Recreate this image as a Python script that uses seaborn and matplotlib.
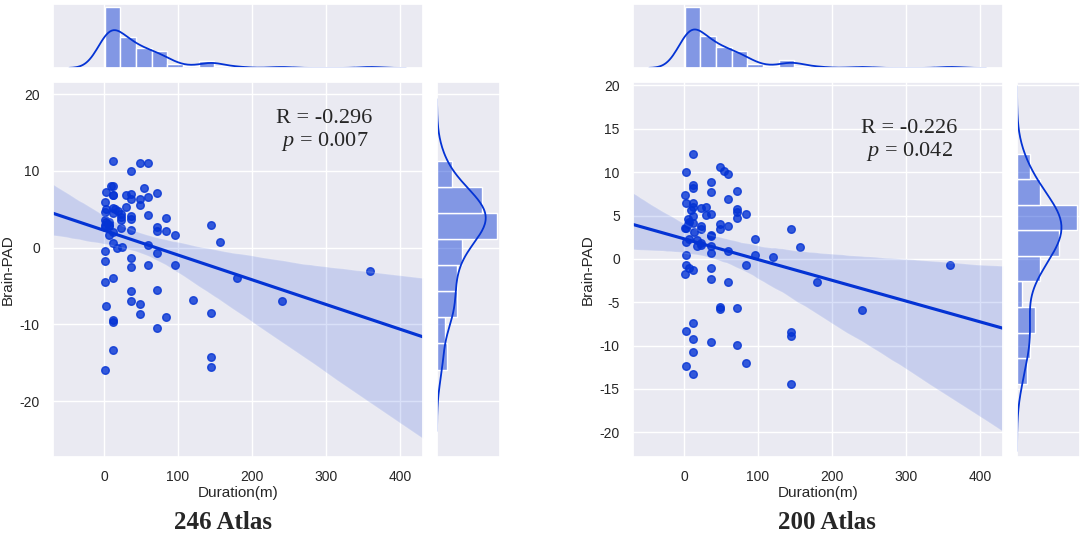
import numpy as np
import matplotlib
matplotlib.use('Agg')
import matplotlib.pyplot as plt
import seaborn as sns

# durata (luni) si Brain-PAD, atlas 246
dur_246 = [12, 48, 60, 36, 2, 9, 12, 12, 12, 1, 54, 72, 30, 36, 36, 48, 48, 59, 30, 1,
           12, 15, 19, 23, 23, 23, 23, 36, 36, 60, 84, 1, 3, 6, 7, 1, 36, 72, 72, 84,
           96, 144, 156, 6, 12, 18, 24, 60, 1, 72, 1, 36, 36, 60, 96, 180, 1, 12, 36, 72,
           36, 48, 120, 2, 48, 84, 144, 12, 12, 72, 12, 144, 1, 144, 240, 360,
           1, 12, 6, 12, 2]
pad_246 = [11.35, 11.0, 11.1, 10.0, 7.2, 8.0, 8.1, 6.8, 6.9, 6.0, 7.8, 7.1, 6.8, 7.0, 6.35, 6.3, 5.5, 6.6, 5.35, 4.6,
           5.2, 5.0, 4.8, 4.4, 4.0, 3.6, 2.6, 4.1, 3.8, 4.2, 3.9, 3.6, 3.3, 3.0, 2.8, 2.7, 2.3, 2.7, 2.2, 2.2,
           1.6, 3.0, 0.8, 1.6, 0.65, 0.0, 0.1, 0.4, -0.5, -0.7, -1.8, -1.35, -2.5, -2.3, -2.2, -4.0, -4.5, -4.0, -5.6, -5.5,
           -7.0, -7.3, -6.8, -7.6, -8.7, -9.0, -8.5, -9.5, -9.7, -10.5, -13.4, -14.2, -15.9, -15.6, -7.0, -3.0,
           3.0, 4.5, 3.4, 2.0, 5.0]

# durata (luni) si Brain-PAD, atlas 200
dur_200 = [12, 2, 48, 54, 60, 36, 12, 12, 36, 72, 1, 2, 12, 12, 9, 23, 30, 59, 72, 72,
           72, 84, 30, 36, 12, 5, 7, 5, 12, 23, 23, 48, 48, 60, 1, 2, 14, 36, 36, 2,
           6, 18, 18, 23, 23, 36, 36, 60, 96, 96, 120, 144, 156, 2, 2, 6, 12, 1, 36, 36,
           60, 84, 180, 48, 48, 72, 12, 2, 12, 36, 72, 144, 144, 12, 2, 12, 84, 144, 240, 360]
pad_200 = [12.15, 10.0, 10.65, 10.1, 9.8, 8.9, 8.5, 8.15, 7.7, 7.85, 7.4, 6.5, 6.5, 5.95, 5.65, 5.85, 6.0, 6.9, 5.7, 5.4,
           4.7, 5.2, 5.1, 5.15, 5.0, 4.6, 4.3, 4.0, 4.15, 3.8, 3.5, 4.0, 3.5, 3.8, 3.6, 3.6, 3.1, 2.8, 2.65, 1.95,
           2.3, 2.2, 1.5, 1.55, 1.8, 1.45, 0.7, 0.95, 2.25, 0.4, 0.25, 3.4, 1.4, 0.5, -0.75, -1.1, -1.3, -1.8, -1.1, -2.35,
           -2.7, -0.7, -2.65, -5.55, -5.8, -5.65, -7.4, -8.3, -9.25, -9.6, -9.9, -8.4, -8.9, -10.7, -12.4, -13.3, -12.0, -14.4, -5.9, -0.7]

stat_246 = ('R = -0.296', '0.007')
stat_200 = ('R = -0.226', '0.042')

culoare = '#0433d4'

sns.set_theme(style='darkgrid')
plt.rcParams['font.family'] = ['Liberation Sans', 'DejaVu Sans']
plt.rcParams['axes.unicode_minus'] = False
plt.rcParams['mathtext.fontset'] = 'custom'
plt.rcParams['mathtext.rm'] = 'Liberation Serif'
plt.rcParams['mathtext.it'] = 'Liberation Serif:italic'

fig = plt.figure(figsize=(10.84, 5.35), dpi=100)


def panou(x0, x, y, ylim, yticks, stat, txt_pos, titlu, titlu_x, ybins):
    W, H = 1084.0, 535.0
    ax = fig.add_axes([x0 / W, 78 / H, 370 / W, 375 / H])
    ax_x = fig.add_axes([x0 / W, 467 / H, 370 / W, 64 / H], sharex=ax)
    ax_y = fig.add_axes([(x0 + 384) / W, 78 / H, 63 / W, 375 / H], sharey=ax)

    ax.set_xlim(-69, 431)
    ax.set_ylim(*ylim)
    ax.set_xticks([0, 100, 200, 300, 400])
    ax.set_yticks(yticks)

    sns.regplot(x=x, y=y, ax=ax, color=culoare, truncate=False, seed=0,
                scatter_kws={'s': 30})
    sns.histplot(x=x, ax=ax_x, kde=True, color=culoare, bins=17, alpha=0.45,
                 kde_kws={'cut': 3, 'bw_adjust': 0.65}, line_kws={'lw': 1.3})
    sns.histplot(y=y, ax=ax_y, kde=True, color=culoare, bins=ybins, alpha=0.45,
                 kde_kws={'cut': 3}, line_kws={'lw': 1.3})
    ax.set_xlim(-69, 431)
    ax.set_ylim(*ylim)

    for a in (ax_x, ax_y):
        a.set_xlabel('')
        a.set_ylabel('')
        a.tick_params(labelleft=False, labelbottom=False)
    ax_x.yaxis.grid(False)
    ax_y.xaxis.grid(False)

    ax.set_xlabel('Duration(m)', fontsize=11, labelpad=1)
    ax.set_ylabel('Brain-PAD', fontsize=11)
    ax.yaxis.set_label_coords(-0.103, 0.5)
    ax.tick_params(labelsize=10)

    ax.text(txt_pos[0], txt_pos[1], stat[0], ha='center', va='baseline',
            fontsize=16, family='Liberation Serif')
    ax.text(txt_pos[0], txt_pos[2], r'$\it{p}$ = ' + stat[1],
            ha='center', va='baseline', fontsize=16, family='Liberation Serif')

    fig.text(titlu_x / W, 6 / H, titlu, ha='center', va='baseline',
             fontsize=18, fontweight='bold', family='Liberation Serif')


panou(53, dur_246, pad_246, (-27.3, 21.6), [-20, -10, 0, 10, 20],
      stat_246, (298, 16.3, 13.2), '246 Atlas', 223, 8)
panou(633, dur_200, pad_200, (-22.85, 20.4), [-20, -15, -10, -5, 0, 5, 10, 15, 20],
      stat_200, (304, 14.5, 11.9), '200 Atlas', 827, 9)

fig.savefig('out.png', dpi=100)
